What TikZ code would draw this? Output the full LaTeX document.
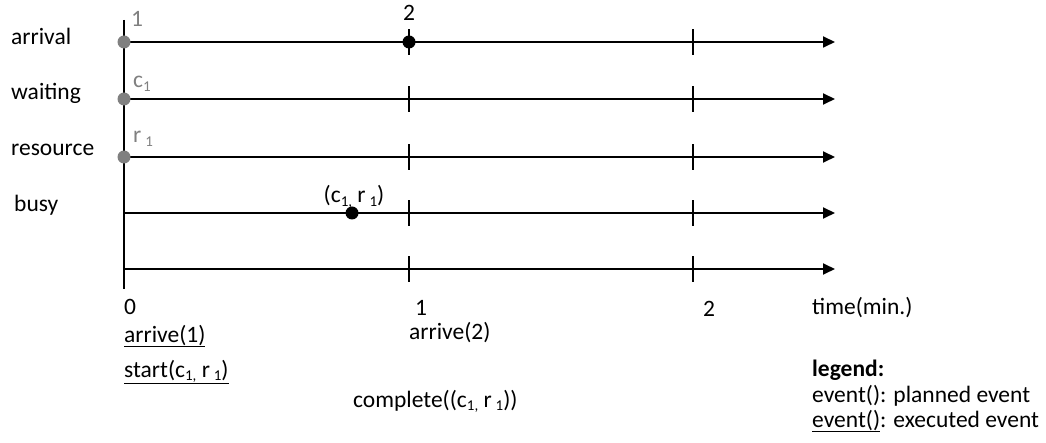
\documentclass[tikz,border=0pt]{standalone}
\usepackage{fontspec}
\setmainfont{Carlito}
\usetikzlibrary{arrows.meta}
\newcommand{\mysub}[1]{\raisebox{-0.3ex}{\fontsize{15}{17}\selectfont #1}}
\begin{document}
\begin{tikzpicture}[x=1pt,y=-1pt,
  axis/.style={line width=1.8pt,-{Triangle[length=12pt,width=11pt]}},
  tick/.style={line width=1.8pt},
  lbl/.style={font=\fontsize{23.5}{27}\selectfont,inner sep=0pt,anchor=base west},
  glbl/.style={lbl,text=gray},
  gdot/.style={circle,fill=gray,minimum size=13pt,inner sep=0pt},
  bdot/.style={circle,fill=black,minimum size=13pt,inner sep=0pt}]
\useasboundingbox (0,0) rectangle (1046,443);
% coordinates
\foreach \n/\y in {a/42,w/99,r/157,b/213,t/269}{
  \coordinate (\n0) at (124,\y);
  \coordinate (\n1) at (409,\y);
  \coordinate (\n2) at (693,\y);
  \coordinate (\n e) at (835,\y);
}
\coordinate (vtop) at (124,20);
\coordinate (vbot) at (124,289);
\draw[tick] (vtop) -- (vbot);
\foreach \n in {a,w,r,b,t}{
  \draw[axis] (\n0) -- (\n e);
  \draw[tick] ([yshift=-13pt]\n1) -- ([yshift=13pt]\n1);
  \draw[tick] ([yshift=-13pt]\n2) -- ([yshift=13pt]\n2);
}
% row labels
\node[lbl] (la) at (11,45) {arrival};
\node[lbl] (lw) at (11,100) {waiting};
\node[lbl] (lr) at (11,156) {resource};
\node[lbl] (lb) at (14,212) {busy};
% dots
\node[gdot] (d1) at (a0) {};
\node[gdot] (d2) at (w0) {};
\node[gdot] (d3) at (r0) {};
\node[bdot] (d4) at (a1) {};
\node[bdot] (d5) at (352,213) {};
% dot labels
\node[glbl] (g1) at (131,27) {1};
\node[glbl] (g2) at (133,88) {c\mysub{1}};
\node[glbl] (g3) at (133,143) {r\,\mysub{1}};
\node[lbl,anchor=base] (n2) at (409,21) {2};
\node[lbl,anchor=base] (cr) at (354,203) {(c\mysub{1,} r\,\mysub{1})};
% time labels
\node[lbl] (t0) at (124,315) {0};
\node[lbl] (t1) at (415,316) {1};
\node[lbl] (t2) at (703,317) {2};
\node[lbl] (tm) at (812,315) {time(min.)};
\node[lbl] (e1) at (124,342) {\underline{arrive(1)}};
\node[lbl] (e2) at (124,377) {\underline{start(c\mysub{1,} r\,\mysub{1})}};
\node[lbl] (e3) at (409,340) {arrive(2)};
\node[lbl] (e4) at (353,407) {complete((c\mysub{1,} r\,\mysub{1}))};
% legend
\node[lbl,font=\fontsize{23.5}{27}\selectfont\bfseries] (lg) at (812,376) {legend:};
\node[lbl] (lg1) at (812,402) {event(): planned event};
\node[lbl] (lg2) at (812,427) {\underline{event()}: executed event};
\end{tikzpicture}
\end{document}
